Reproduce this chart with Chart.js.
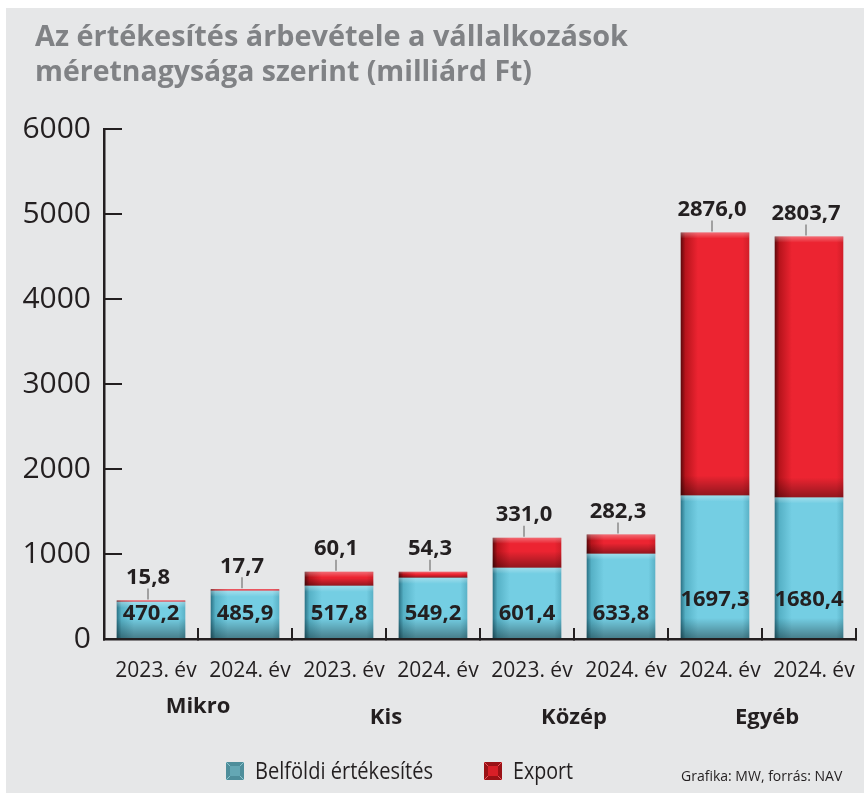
<!DOCTYPE html>
<html>
<head>
<meta charset="utf-8">
<script src="https://cdn.jsdelivr.net/npm/chart.js@4.4.1/dist/chart.umd.min.js"></script>
<style>
  html, body { margin: 0; padding: 0; background: #ffffff; }
  #wrap { position: absolute; left: 0; top: 0; width: 864px; height: 793px; }
  canvas { display: block; }
</style>
</head>
<body>
<div id="wrap"><canvas id="c" width="864" height="793"></canvas></div>
<script>
// ---- Data ----
const titleLines = ['Az értékesítés árbevétele a vállalkozások', 'méretnagysága szerint (milliárd Ft)'];
const categories = ['2023. év', '2024. év', '2023. év', '2024. év', '2023. év', '2024. év', '2024. év', '2024. év'];
const groupNames = ['Mikro', 'Kis', 'Közép', 'Egyéb'];
const seriesNames = ['Belföldi értékesítés', 'Export'];
// printed value labels
const domesticLabels = ['470,2', '485,9', '517,8', '549,2', '601,4', '633,8', '1697,3', '1680,4'];
const exportLabels = ['15,8', '17,7', '60,1', '54,3', '331,0', '282,3', '2876,0', '2803,7'];
// segment heights as drawn in the picture (milliárd Ft)
const domesticValues = [437, 567, 626, 720, 838, 1003, 1688, 1665];
const exportValues = [15.8, 17.7, 165, 71, 354, 225, 3094, 3069];
const yTicks = [0, 1000, 2000, 3000, 4000, 5000, 6000];
const creditText = 'Grafika: MW, forrás: NAV';

const FONT = '"Open Sans", "Noto Sans", sans-serif';
const INK = '#231f20';

function barFill(col) {
  return (c) => {
    const chart = c.chart;
    const xs = chart.scales && chart.scales.x;
    if (!xs || c.type !== 'data') return col.main;
    const cx = xs.getPixelForValue(c.dataIndex);
    const step = xs.getPixelForValue(1) - xs.getPixelForValue(0);
    if (!isFinite(cx) || !isFinite(step) || step <= 0) return col.main;
    const w = step * 0.73;
    const g = chart.ctx.createLinearGradient(cx - w / 2, 0, cx + w / 2, 0);
    g.addColorStop(0, col.dark);
    g.addColorStop(0.07, col.mid);
    g.addColorStop(0.25, col.main);
    g.addColorStop(0.9, col.main);
    g.addColorStop(1, col.edge);
    return g;
  };
}
const BLUE = { dark: '#2b7285', mid: '#56b1c6', main: '#74cee3', edge: '#5ab1c6' };
const RED = { dark: '#5e080b', mid: '#b8141c', main: '#ec2431', edge: '#d01e28' };

const bgPlugin = {
  id: 'bg',
  beforeDraw(chart) {
    const ctx = chart.ctx;
    ctx.save();
    ctx.fillStyle = '#ffffff';
    ctx.fillRect(0, 0, chart.width, chart.height);
    ctx.fillStyle = '#e6e7e8';
    ctx.fillRect(6, 8, chart.width - 6, chart.height - 8);
    // title
    ctx.fillStyle = '#808285';
    ctx.font = 'bold 29px ' + FONT;
    ctx.textAlign = 'left';
    ctx.textBaseline = 'alphabetic';
    ctx.fillText(titleLines[0], 35, 46, 593);
    ctx.fillText(titleLines[1], 35, 81, 497);
    ctx.restore();
  }
};

const decoPlugin = {
  id: 'deco',
  afterDatasetsDraw(chart) {
    const ctx = chart.ctx;
    const base = chart.scales.y.getPixelForValue(0);
    ctx.save();
    // shading overlays on each bar segment
    chart.data.datasets.forEach((ds, di) => {
      const meta = chart.getDatasetMeta(di);
      meta.data.forEach((el) => {
        const top = Math.min(el.y, el.base), bot = Math.max(el.y, el.base);
        const h = bot - top;
        if (h < 2) return;
        const l = el.x - el.width / 2;
        const g = ctx.createLinearGradient(0, top, 0, bot);
        const hl = Math.min(0.4, 6 / h), sh = Math.max(0.45, 1 - 20 / h);
        g.addColorStop(0, 'rgba(255,255,255,0.32)');
        g.addColorStop(hl, 'rgba(255,255,255,0)');
        g.addColorStop(sh, 'rgba(0,0,0,0)');
        g.addColorStop(1, 'rgba(0,0,0,0.38)');
        ctx.fillStyle = g;
        ctx.fillRect(l, top, el.width, h);
      });
    });
    // value labels
    const dMeta = chart.getDatasetMeta(0);
    const eMeta = chart.getDatasetMeta(1);
    ctx.fillStyle = INK;
    ctx.font = 'bold 22px ' + FONT;
    ctx.textAlign = 'center';
    ctx.textBaseline = 'middle';
    dMeta.data.forEach((el, i) => {
      const top = Math.min(el.y, el.base);
      const y = (base - top) > 120 ? base - 39 : base - 25;
      ctx.fillText(domesticLabels[i], el.x, y);
    });
    eMeta.data.forEach((el, i) => {
      const top = Math.min(el.y, el.base);
      ctx.fillStyle = INK;
      ctx.fillText(exportLabels[i], el.x - 3, top - 23);
      ctx.strokeStyle = '#8a8a8a';
      ctx.lineWidth = 1.5;
      ctx.beginPath();
      ctx.moveTo(el.x - 3, top - 12);
      ctx.lineTo(el.x - 3, top - 1);
      ctx.stroke();
    });
    ctx.restore();
  },
  afterDraw(chart) {
    const ctx = chart.ctx;
    const xs = chart.scales.x;
    ctx.save();
    // group names
    ctx.fillStyle = INK;
    ctx.font = 'bold 22px ' + FONT;
    ctx.textAlign = 'center';
    ctx.textBaseline = 'middle';
    groupNames.forEach((g, i) => {
      const cx = (xs.getPixelForValue(2 * i) + xs.getPixelForValue(2 * i + 1)) / 2;
      ctx.fillText(g, cx + (i === 3 ? 5 : 0), i === 0 ? 707 : 718);
    });
    // legend
    const items = [
      { x: 226, text: seriesNames[0], w: 178, outer: '#4e8e9b', inner: '#64a7b4', line: '#8cc3cd' },
      { x: 484, text: seriesNames[1], w: 60, outer: '#9a1216', inner: '#d81f27', line: '#e8555b' }
    ];
    items.forEach((it) => {
      const y = 762, s = 18, ins = 4;
      ctx.fillStyle = it.outer;
      ctx.fillRect(it.x, y, s, s);
      ctx.strokeStyle = it.line;
      ctx.lineWidth = 1;
      ctx.beginPath();
      ctx.moveTo(it.x, y); ctx.lineTo(it.x + s, y + s);
      ctx.moveTo(it.x + s, y); ctx.lineTo(it.x, y + s);
      ctx.stroke();
      ctx.fillStyle = it.inner;
      ctx.fillRect(it.x + ins, y + ins, s - 2 * ins, s - 2 * ins);
      ctx.fillStyle = INK;
      ctx.font = '23px ' + FONT;
      ctx.textAlign = 'left';
      ctx.textBaseline = 'middle';
      ctx.fillText(it.text, it.x + 29, 772, it.w);
    });
    // credit
    ctx.font = '14px ' + FONT;
    ctx.fillStyle = INK;
    ctx.textAlign = 'left';
    ctx.fillText(creditText, 681, 777, 170);
    ctx.restore();
  }
};

new Chart(document.getElementById('c'), {
  type: 'bar',
  data: {
    labels: categories,
    datasets: [
      { label: seriesNames[0], data: domesticValues, backgroundColor: barFill(BLUE), borderWidth: 0 },
      { label: seriesNames[1], data: exportValues, backgroundColor: barFill(RED), borderWidth: 0 }
    ]
  },
  options: {
    responsive: false,
    animation: false,
    devicePixelRatio: 1,
    layout: { padding: { left: 0, right: 8, top: 129, bottom: 0 } },
    datasets: { bar: { barPercentage: 0.73, categoryPercentage: 1.0 } },
    plugins: { legend: { display: false }, tooltip: { enabled: false }, title: { display: false } },
    scales: {
      x: {
        stacked: true,
        grid: { display: true, drawOnChartArea: false, drawTicks: true, tickLength: -11, color: INK, lineWidth: 2, offset: true },
        border: { display: true, color: INK, width: 2.5 },
        ticks: { color: INK, font: { family: FONT, size: 21 }, padding: 30, labelOffset: 5, maxRotation: 0, autoSkip: false },
        afterFit(scale) { scale.height = 154; scale.paddingLeft = 0; scale.paddingRight = 0; }
      },
      y: {
        stacked: true,
        min: 0, max: 6000,
        afterBuildTicks(scale) { scale.ticks = yTicks.map(v => ({ value: v })); },
        grid: { display: true, drawOnChartArea: false, drawTicks: true, tickLength: -18, color: INK, lineWidth: 2 },
        border: { display: true, color: INK, width: 2.5 },
        ticks: { color: INK, font: { family: FONT, size: 30 }, padding: 31, callback: (v) => String(v) },
        afterFit(scale) { scale.width = 104; }
      }
    }
  },
  plugins: [bgPlugin, decoPlugin]
});
</script>
</body>
</html>
